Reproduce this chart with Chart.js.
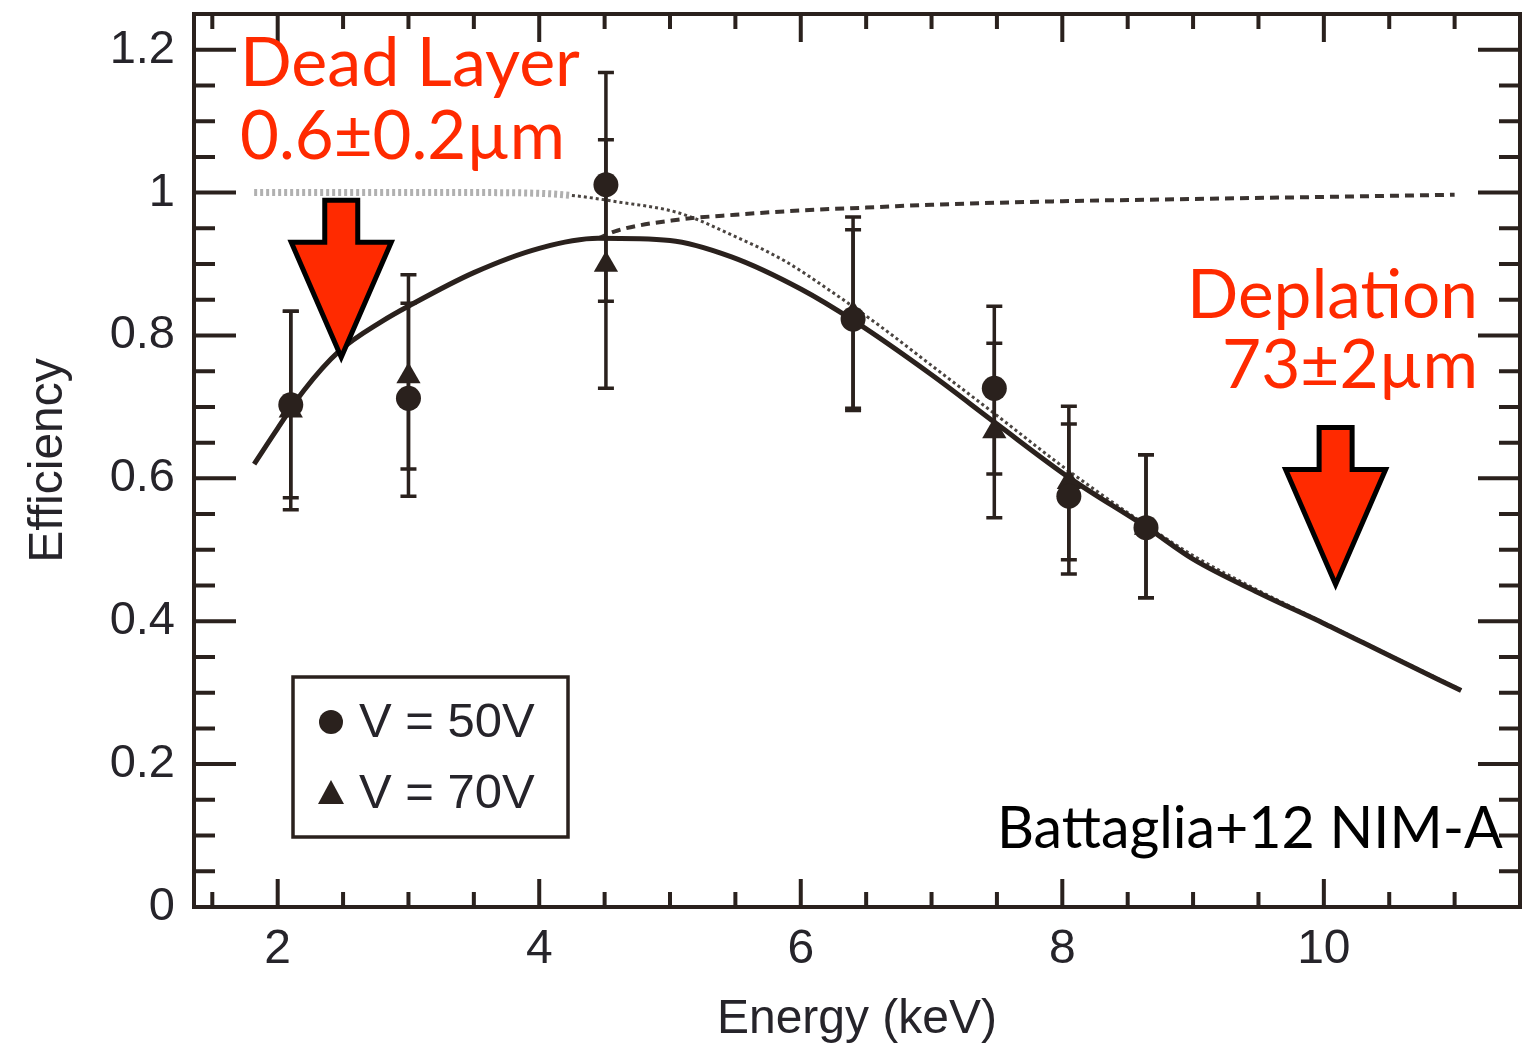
<!DOCTYPE html>
<html>
<head>
<meta charset="utf-8">
<script src="https://cdn.jsdelivr.net/npm/chart.js@4.4.1/dist/chart.umd.min.js"></script>
<style>
  html, body { margin: 0; padding: 0; background: #fff; }
  canvas { display: block; }
</style>
</head>
<body>
<canvas id="chart" width="1534" height="1046"></canvas>
<script>
// Axis ranges and ticks
const X_MIN = 1.36, X_MAX = 11.5;
const Y_MIN = 0, Y_MAX = 1.25;
const xTickValues = [2, 4, 6, 8, 10];
const xTickLabels = ['2', '4', '6', '8', '10'];
const yTickValues = [0, 0.2, 0.4, 0.6, 0.8, 1.0, 1.2];
const yTickLabels = ['0', '0.2', '0.4', '0.6', '0.8', '1', '1.2'];
const X_MINOR_STEP = 0.5;
const Y_MINOR_STEP = 0.05;

// Measured efficiency (keV)
const energy = [2.1, 3.0, 4.51, 6.4, 7.48, 8.05, 8.64];
const eff50 = [0.703, 0.712, 1.011, 0.823, 0.726, 0.575, 0.531];
const eff50Lo = [0.573, 0.575, 0.848, 0.698, 0.606, 0.466, 0.433];
const eff50Hi = [0.834, 0.845, 1.168, 0.948, 0.841, 0.676, 0.633];
const eff70 = [0.695, 0.743, 0.899, 0.830, 0.666, 0.595, 0.531];
const eff70Lo = [0.556, 0.613, 0.726, 0.695, 0.545, 0.486, 0.433];
const eff70Hi = [0.834, 0.885, 1.074, 0.966, 0.789, 0.701, 0.633];

// Model curves
const totalE   = [1.82, 2.0, 2.2, 2.47, 2.8, 3.0, 3.5, 4.0, 4.45, 5.0, 5.47, 6.0, 6.41, 7.0, 7.5, 8.06, 8.65, 9.0, 9.5, 10.0, 10.5, 11.05];
const totalEff = [0.62, 0.67, 0.723, 0.778, 0.82, 0.841, 0.888, 0.922, 0.936, 0.933, 0.91, 0.865, 0.82, 0.745, 0.676, 0.600, 0.531, 0.487, 0.44, 0.397, 0.352, 0.303];
const deplE    = [1.82, 2.5, 3.0, 3.5, 4.0, 4.25, 4.6, 5.06, 5.47, 5.88, 6.23, 6.6, 7.0, 7.5, 8.0, 8.5, 9.0, 9.5, 10.0, 10.5, 11.05];
const deplEff  = [1.0, 1.0, 1.0, 1.0, 0.999, 0.996, 0.987, 0.972, 0.941, 0.904, 0.862, 0.814, 0.758, 0.688, 0.617, 0.552, 0.492, 0.443, 0.398, 0.353, 0.304];
const deadE    = [4.45, 4.6, 5.06, 5.5, 6.0, 6.5, 7.0, 8.0, 9.0, 10.0, 11.0];
const deadEff  = [0.936, 0.947, 0.962, 0.969, 0.975, 0.979, 0.983, 0.988, 0.991, 0.994, 0.997];

// Arrow tips (keV, efficiency)
const arrowTips = [[2.486, 0.761], [10.09, 0.443]];

const INK = '#2a211d';
const LABEL_INK = '#26242a';
const RED = '#ff2a00';
const SANS = '"Liberation Sans", Arial, Helvetica, sans-serif';
const HUMANIST = 'Lato, "Open Sans", sans-serif';

const toXY = (xs, ys) => xs.map((x, i) => ({ x, y: ys[i] }));

function drawErrorBars(chart) {
  const { ctx, scales: { x, y } } = chart;
  ctx.save();
  ctx.strokeStyle = INK;
  ctx.lineWidth = 3.5;
  const sets = [[eff50Lo, eff50Hi], [eff70Lo, eff70Hi]];
  energy.forEach((e, i) => {
    const px = x.getPixelForValue(e);
    sets.forEach(([lo, hi]) => {
      const yl = y.getPixelForValue(lo[i]);
      const yh = y.getPixelForValue(hi[i]);
      ctx.beginPath();
      ctx.moveTo(px, yl); ctx.lineTo(px, yh);
      ctx.moveTo(px - 8, yl); ctx.lineTo(px + 8, yl);
      ctx.moveTo(px - 8, yh); ctx.lineTo(px + 8, yh);
      ctx.stroke();
    });
  });
  ctx.restore();
}

function drawFrame(chart) {
  const { ctx, chartArea: a, scales: { x, y } } = chart;
  ctx.save();
  ctx.strokeStyle = INK;
  ctx.lineWidth = 4;
  ctx.strokeRect(a.left, a.top, a.right - a.left, a.bottom - a.top);
  ctx.beginPath();
  for (let v = Math.ceil(X_MIN / X_MINOR_STEP) * X_MINOR_STEP; v < X_MAX - 0.01; v += X_MINOR_STEP) {
    const major = xTickValues.some(t => Math.abs(t - v) < 1e-6);
    const len = major ? 28 : 15;
    const px = x.getPixelForValue(v);
    ctx.moveTo(px, a.bottom); ctx.lineTo(px, a.bottom - len);
    ctx.moveTo(px, a.top); ctx.lineTo(px, a.top + len);
  }
  for (let v = Y_MINOR_STEP; v < Y_MAX - 0.01; v += Y_MINOR_STEP) {
    const major = yTickValues.some(t => Math.abs(t - v) < 1e-6);
    const len = major ? 42 : 21;
    const py = y.getPixelForValue(v);
    ctx.moveTo(a.left, py); ctx.lineTo(a.left + len, py);
    ctx.moveTo(a.right, py); ctx.lineTo(a.right - len, py);
  }
  ctx.stroke();
  ctx.restore();
}

function drawLegend(chart) {
  const { ctx, chartArea: a } = chart;
  const bx = a.left + 99, by = a.top + 663;
  ctx.save();
  ctx.strokeStyle = INK;
  ctx.lineWidth = 3.5;
  ctx.strokeRect(bx, by, 275, 160);
  ctx.fillStyle = INK;
  ctx.beginPath();
  ctx.arc(bx + 38, by + 45, 12, 0, Math.PI * 2);
  ctx.fill();
  ctx.beginPath();
  ctx.moveTo(bx + 38, by + 103);
  ctx.lineTo(bx + 51, by + 127);
  ctx.lineTo(bx + 25, by + 127);
  ctx.closePath();
  ctx.fill();
  ctx.fillStyle = LABEL_INK;
  ctx.font = `49px ${SANS}`;
  ctx.textBaseline = 'middle';
  ctx.fillText('V = 50V', bx + 66, by + 46);
  ctx.fillText('V = 70V', bx + 66, by + 117);
  ctx.restore();
}

function drawArrow(ctx, tx, ty) {
  ctx.save();
  ctx.translate(tx, ty);
  ctx.beginPath();
  ctx.moveTo(-16.5, -163);
  ctx.lineTo(16.5, -163);
  ctx.lineTo(16.5, -121);
  ctx.lineTo(50, -121);
  ctx.lineTo(0, -6);
  ctx.lineTo(-50, -121);
  ctx.lineTo(-16.5, -121);
  ctx.closePath();
  ctx.fillStyle = RED;
  ctx.fill();
  ctx.lineJoin = 'miter';
  ctx.lineWidth = 5;
  ctx.strokeStyle = '#000';
  ctx.stroke();
  ctx.restore();
}

function fitFont(ctx, text, family, width) {
  ctx.font = `100px ${family}`;
  return 100 * width / ctx.measureText(text).width;
}

function drawLabel(ctx, text, family, color, x, baseline, width, align) {
  const size = fitFont(ctx, text, family, width);
  ctx.font = `${size}px ${family}`;
  ctx.fillStyle = color;
  ctx.textAlign = align;
  ctx.textBaseline = 'alphabetic';
  ctx.fillText(text, x, baseline);
}

const overlayPlugin = {
  id: 'overlay',
  afterDatasetDraw(chart, args) {
    if (args.index === 2) drawErrorBars(chart);
  },
  afterDraw(chart) {
    const { ctx, scales: { x, y } } = chart;
    drawFrame(chart);
    drawLegend(chart);
    arrowTips.forEach(([e, v]) => drawArrow(ctx, x.getPixelForValue(e), y.getPixelForValue(v)));
    ctx.save();
    drawLabel(ctx, 'Dead Layer', HUMANIST, RED, 240, 86, 340, 'left');
    drawLabel(ctx, '0.6\u00b10.2\u00b5m', HUMANIST, RED, 240, 159, 325, 'left');
    drawLabel(ctx, 'Deplation', HUMANIST, RED, 1478, 318, 291, 'right');
    drawLabel(ctx, '73\u00b12\u00b5m', HUMANIST, RED, 1478, 388, 256, 'right');
    drawLabel(ctx, 'Battaglia+12 NIM-A', HUMANIST, '#000', 997, 848, 506, 'left');
    ctx.restore();
  }
};

new Chart(document.getElementById('chart'), {
  type: 'scatter',
  data: {
    datasets: [
      {
        label: 'V = 50V',
        data: toXY(energy, eff50),
        pointStyle: 'circle',
        pointRadius: 12.5,
        backgroundColor: INK,
        borderColor: INK,
        borderWidth: 0,
        showLine: false,
        order: 0
      },
      {
        label: 'V = 70V',
        data: toXY(energy, eff70),
        pointStyle: 'triangle',
        pointRadius: 14,
        backgroundColor: INK,
        borderColor: INK,
        borderWidth: 0,
        showLine: false,
        order: 0
      },
      {
        label: 'Total',
        data: toXY(totalE, totalEff),
        showLine: true,
        pointRadius: 0,
        borderColor: INK,
        borderWidth: 5,
        cubicInterpolationMode: 'monotone',
        order: 1
      },
      {
        label: 'Dead layer',
        data: toXY(deadE, deadEff),
        showLine: true,
        pointRadius: 0,
        borderColor: '#3a3330',
        borderWidth: 4,
        borderDash: [9, 6],
        cubicInterpolationMode: 'monotone',
        order: 2
      },
      {
        label: 'Depletion',
        data: toXY(deplE, deplEff),
        showLine: true,
        pointRadius: 0,
        borderColor: '#666',
        borderWidth: 3,
        borderDash: [3, 3],
        cubicInterpolationMode: 'monotone',
        segment: {
          borderColor: c => c.p0.parsed.x < 4.2 ? '#b0b0b0' : '#4a4440',
          borderWidth: c => c.p0.parsed.x < 4.2 ? 7 : 3
        },
        order: 3
      }
    ]
  },
  options: {
    responsive: false,
    animation: false,
    devicePixelRatio: 1,
    layout: { padding: { top: 12, right: 9, left: 0, bottom: 0 } },
    plugins: { legend: { display: false }, tooltip: { enabled: false } },
    scales: {
      x: {
        type: 'linear',
        min: X_MIN,
        max: X_MAX,
        grid: { display: false, drawTicks: false },
        border: { display: false },
        afterBuildTicks: s => { s.ticks = xTickValues.map(v => ({ value: v })); },
        afterFit: s => { s.height = 139; s.paddingLeft = 0; s.paddingRight = 0; },
        ticks: {
          padding: 14,
          maxRotation: 0,
          color: LABEL_INK,
          font: { family: SANS, size: 48, lineHeight: 1.2 },
          callback: v => xTickLabels[xTickValues.indexOf(v)]
        },
        title: {
          display: true,
          text: 'Energy (keV)',
          color: LABEL_INK,
          font: { family: SANS, size: 48, lineHeight: 1 },
          padding: { top: 0, bottom: 2 }
        }
      },
      y: {
        type: 'linear',
        min: Y_MIN,
        max: Y_MAX,
        grid: { display: false, drawTicks: false },
        border: { display: false },
        afterBuildTicks: s => { s.ticks = yTickValues.map(v => ({ value: v })); },
        afterFit: s => { s.width = 194; s.paddingTop = 0; s.paddingBottom = 0; },
        ticks: {
          padding: 19,
          color: LABEL_INK,
          font: { family: SANS, size: 47, lineHeight: 1.2 },
          callback: v => yTickLabels[yTickValues.indexOf(v)]
        },
        title: {
          display: true,
          text: 'Efficiency',
          color: LABEL_INK,
          font: { family: SANS, size: 48, lineHeight: 1 },
          padding: { top: 25, bottom: 0 }
        }
      }
    }
  },
  plugins: [overlayPlugin]
});
</script>
</body>
</html>
